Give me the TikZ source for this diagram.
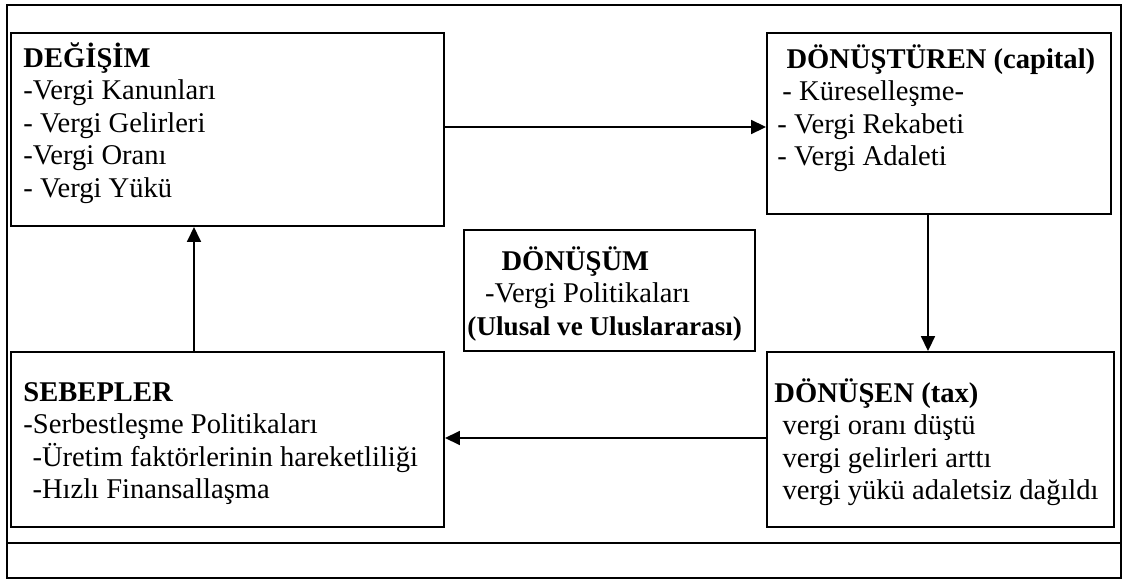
\documentclass[tikz,border=0pt]{standalone}
\usepackage{fontspec}
\setmainfont{Liberation Serif}
\usetikzlibrary{arrows.meta}
\newcommand\boxlines[1]{\parbox[t]{12cm}{\raggedright\fontsize{12}{13.7}\selectfont #1}}
\tikzset{
  frameline/.style={line width=1pt},
  boxnode/.style={draw, line width=0.85pt, rectangle, inner sep=0pt, anchor=north west},
  txt/.style={anchor=base west, inner sep=0pt},
  arr/.style={line width=0.85pt, -{Triangle[length=6.2pt,width=5.8pt]}},
}
\begin{document}
\begin{tikzpicture}[x=0.42pt,y=-0.42pt]
\useasboundingbox (0,0) rectangle (1123,580);
% outer frame
\draw[frameline] (7,5) rectangle (1121,578);
\draw[frameline] (7,543) -- (1121,543);
% boxes
\node[boxnode, minimum width=433*0.42pt, minimum height=193*0.42pt] (deg) at (10,32) {};
\node[boxnode, minimum width=344*0.42pt, minimum height=181*0.42pt] (dont) at (766,32) {};
\node[boxnode, minimum width=347*0.42pt, minimum height=175*0.42pt] (donen) at (766,351) {};
\node[boxnode, minimum width=433*0.42pt, minimum height=175*0.42pt] (seb) at (10,351) {};
\node[boxnode, minimum width=291*0.42pt, minimum height=121*0.42pt] (donum) at (463,229) {};
% texts
\node[txt] (tdeg) at (23,67) {\boxlines{\textbf{DEĞİŞİM}\\-Vergi Kanunları\\- Vergi Gelirleri\\-Vergi Oranı\\- Vergi Yükü}};
\node[txt] (tdont) at (777,68) {\boxlines{\hspace*{3.8pt}\textbf{DÖNÜŞTÜREN (capital)}\\\hspace*{2.1pt}- Küreselleşme-\\- Vergi Rekabeti\\- Vergi Adaleti}};
\node[txt] (tdonum) at (467,270) {\boxlines{\hspace*{14.3pt}\textbf{DÖNÜŞÜM}\\\hspace*{7.4pt}-Vergi Politikaları\\{\fontsize{11.4}{13.7}\selectfont\textbf{(Ulusal ve Uluslararası)}}}};
\node[txt] (tdonen) at (774,402) {\boxlines{\textbf{DÖNÜŞEN (tax)}\\\hspace*{3.4pt}vergi oranı düştü\\\hspace*{3.4pt}vergi gelirleri arttı\\\hspace*{3.4pt}vergi yükü adaletsiz dağıldı}};
\node[txt] (tseb) at (23,401) {\boxlines{\textbf{SEBEPLER}\\-Serbestleşme Politikaları\\\hspace*{3.8pt}-Üretim faktörlerinin hareketliliği\\\hspace*{3.8pt}-Hızlı Finansallaşma}};
% connectors
\coordinate (ya) at (0,127);
\coordinate (yb) at (0,438);
\coordinate (xa) at (928,0);
\coordinate (xb) at (194,0);
\draw[arr] (deg.east |- ya) -- (dont.west |- ya);
\draw[arr] (dont.south -| xa) -- (donen.north -| xa);
\draw[arr] (donen.west |- yb) -- (seb.east |- yb);
\draw[arr] (seb.north -| xb) -- (deg.south -| xb);
\end{tikzpicture}
\end{document}
